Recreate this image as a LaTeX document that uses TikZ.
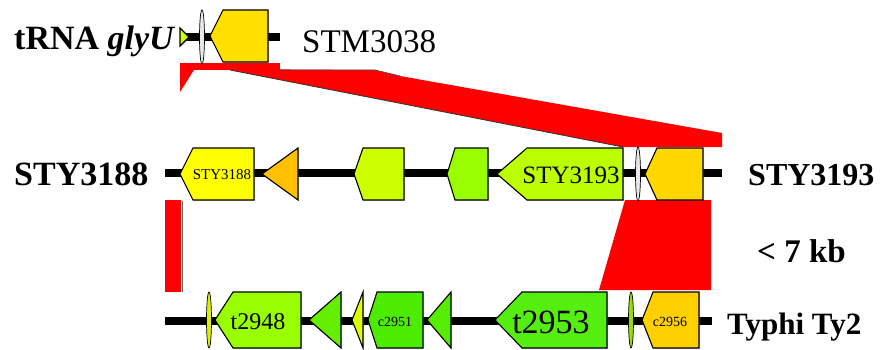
\documentclass[tikz,border=0pt]{standalone}
\usepackage{fontspec}
\setmainfont{Liberation Serif}
\usetikzlibrary{shadows}
\definecolor{cLimeA}{RGB}{204,255,0}
\definecolor{cGoldA}{RGB}{255,224,0}
\definecolor{cYel}{RGB}{255,255,0}
\definecolor{cOrange}{RGB}{255,192,0}
\definecolor{cGreenA}{RGB}{153,255,0}
\definecolor{cLimeB}{RGB}{187,255,0}
\definecolor{cGoldB}{RGB}{255,215,0}
\definecolor{cYelGrn}{RGB}{221,238,0}
\definecolor{cGreenB}{RGB}{102,238,0}
\definecolor{cYelB}{RGB}{221,255,0}
\definecolor{cGreenC}{RGB}{76,235,0}
\definecolor{cGreenD}{RGB}{85,238,0}
\definecolor{cGreenE}{RGB}{85,238,17}
\definecolor{cOlive}{RGB}{153,221,0}
\definecolor{cGoldC}{RGB}{255,208,0}
\definecolor{cPale}{RGB}{232,232,232}
\tikzset{
  genebox/.style={draw=black,line width=1.1pt,line join=miter,
    drop shadow={shadow xshift=1pt,shadow yshift=-1pt,opacity=0.35}},
  track/.style={line width=8pt,black},
  synteny/.style={fill=red,draw=none},
  thinorf/.style={draw=black,line width=0.7pt,fill=#1},
  bigtxt/.style={font=\bfseries\fontsize{33}{33}\selectfont,inner sep=0pt,anchor=base west},
  plaintxt/.style={font=\fontsize{33}{33}\selectfont,inner sep=0pt,anchor=base west},
  genetxt/.style={font=\fontsize{#1}{#1}\selectfont,inner sep=0pt}
}
% left-pointing gene: tip x, corner x, right x, centre y, half height, colour
\newcommand{\lgene}[6]{\draw[genebox,fill=#6] (#1,#4) -- (#2,{#4-#5}) -- (#3,{#4-#5}) -- (#3,{#4+#5}) -- (#2,{#4+#5}) -- cycle;}
% left-pointing triangle: tip x, base x, centre y, half height, colour
\newcommand{\ltri}[5]{\draw[genebox,fill=#5] (#1,#3) -- (#2,{#3-#4}) -- (#2,{#3+#4}) -- cycle;}
\begin{document}
\begin{tikzpicture}[x=1pt,y=-1pt]
\useasboundingbox (0,0) rectangle (885,350);

% ---- synteny blocks ----
\fill[synteny] (180,63) rectangle (280,70);
\fill[synteny] (180,70) -- (180,92) -- (194,70) -- cycle;
\fill[synteny] (205,69) -- (375,70) -- (400,76) -- (722,133) -- (722,147) -- (623,147) -- (230,70) -- cycle;
\draw[black!80,line width=0.8pt] (230,70) -- (623,147);
\draw[black!70,line width=0.7pt] (280,70) -- (375,70) -- (400,76);
\fill[synteny] (165,200) rectangle (181,292);
\draw[black!60,line width=1pt] (182,201) -- (182,292);
\fill[synteny] (625,200) -- (711,200) -- (711,290) -- (599,290) -- cycle;

% ---- top track: LT2 ----
\draw[track] (180,37) -- (280,37);
\draw[genebox,fill=cLimeA] (180,28) -- (189,37) -- (180,46) -- cycle;
\draw[thinorf=cPale] (202,37) ellipse (2.5 and 27);
\lgene{210}{223}{268}{36}{26}{cGoldA}

% ---- middle track: CT18 ----
\draw[track] (165,173) -- (722,173);
\lgene{180}{193}{254}{174}{26}{cYel}
\ltri{262}{298}{174}{26}{cOrange}
\lgene{354}{363}{404}{174}{26}{cLimeA}
\lgene{447}{455}{488}{174}{26}{cGreenA}
\lgene{497}{527}{623}{174}{26}{cLimeB}
\draw[thinorf=cPale] (638,174) ellipse (2.5 and 27);
\lgene{645}{657}{703}{174}{26}{cGoldB}

% ---- bottom track: Ty2 ----
\draw[track] (165,321) -- (712,321);
\draw[thinorf=cYelGrn] (209,320) ellipse (2.5 and 28);
\lgene{215}{233}{301}{320}{28}{cGreenA}
\ltri{309}{341}{320}{28}{cGreenB}
\ltri{352}{363}{320}{28}{cYelB}
\lgene{368}{377}{423}{320}{28}{cGreenC}
\ltri{427}{451}{320}{28}{cGreenD}
\lgene{495}{522}{607}{320}{28}{cGreenE}
\draw[thinorf=cOlive] (631,320) ellipse (2.5 and 28);
\lgene{642}{653}{699}{320}{28}{cGoldC}

% ---- gene labels ----
\node[genetxt=15] (g3188) at (222,175) {STY3188};
\node[genetxt=25] (g3193) at (571,175) {STY3193};
\node[genetxt=24] (g2948) at (258,322) {t2948};
\node[genetxt=14] (g2951) at (395,322) {c2951};
\node[genetxt=34] (g2953) at (551,322) {t2953};
\node[genetxt=14] (g2956) at (670,322) {c2956};

% ---- side labels ----
\node[bigtxt,font=\bfseries\fontsize{34}{34}\selectfont] (trna) at (14,50) {tRNA \textit{glyU}};
\node[plaintxt] (stm) at (302,53) {STM3038};
\node[bigtxt,font=\bfseries\fontsize{34}{34}\selectfont] (styl) at (14,185) {STY3188};
\node[bigtxt,font=\bfseries\fontsize{32}{32}\selectfont] (styr) at (748,185) {STY3193};
\node[bigtxt] (kb) at (757,262) {< 7 kb};
\node[bigtxt,font=\bfseries\fontsize{31}{31}\selectfont] (ty2) at (727,334) {Typhi Ty2};
\end{tikzpicture}
\end{document}
